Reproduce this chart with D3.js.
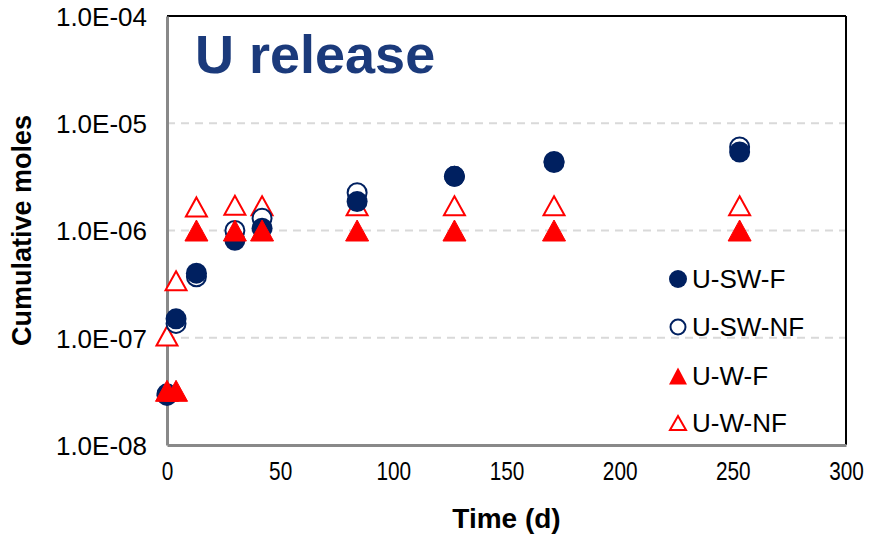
<!DOCTYPE html>
<html>
<head>
<meta charset="utf-8">
<script src="https://cdn.jsdelivr.net/npm/d3@7/dist/d3.min.js"></script>
<style>
  html, body { margin: 0; padding: 0; background: #fff; }
  svg { display: block; }
</style>
</head>
<body>
<svg id="chart" width="872" height="536"></svg>
<script>
// Sampling times (days)
const daysSW = [0, 4, 13, 30, 42, 84, 127, 171, 253];
const daysW  = [0, 4, 13, 30, 42, 84, 127, 171, 253];

// Cumulative U released (moles)
const uSWF  = [2.9e-8, 1.5e-7, 4.0e-7, 8.1e-7, 1.05e-6, 1.86e-6, 3.2e-6, 4.3e-6, 5.4e-6];
const uSWNF = [3.0e-8, 1.36e-7, 3.7e-7, 1.0e-6, 1.3e-6, 2.25e-6, 3.2e-6, 4.4e-6, 6.0e-6];
const uWF   = [3.2e-8, 3.2e-8, 1.0e-6, 1.0e-6, 1.0e-6, 1.0e-6, 1.0e-6, 1.0e-6, 1.0e-6];
const uWNF  = [1.04e-7, 3.4e-7, 1.66e-6, 1.72e-6, 1.7e-6, 1.7e-6, 1.7e-6, 1.7e-6, 1.7e-6];

const xTicks = [0, 50, 100, 150, 200, 250, 300];
const yTicks = [1e-8, 1e-7, 1e-6, 1e-5, 1e-4];
const yTickLabels = ["1.0E-08", "1.0E-07", "1.0E-06", "1.0E-05", "1.0E-04"];
const gridValues = [1e-7, 1e-6, 1e-5];

const seriesNames = ["U-SW-F", "U-SW-NF", "U-W-F", "U-W-NF"];

const NAVY = "#002060";
const RED = "#ff0000";
const FONT = "Liberation Sans, Arial, sans-serif";

const svg = d3.select("#chart");
const plot = { left: 167, right: 846, top: 16, bottom: 445 };

const x = d3.scaleLinear().domain([0, 300]).range([plot.left, plot.right]);
const y = d3.scaleLog().domain([1e-8, 1e-4]).range([plot.bottom, plot.top]);

// Dashed horizontal gridlines
svg.append("g").selectAll("line").data(gridValues).join("line")
  .attr("x1", plot.left).attr("x2", plot.right)
  .attr("y1", d => y(d)).attr("y2", d => y(d))
  .attr("stroke", "#d9d9d9").attr("stroke-width", 2)
  .attr("stroke-dasharray", "8,6");

// Plot frame: black top/right, grey axis lines left/bottom
svg.append("line").attr("x1", plot.left).attr("x2", plot.right)
  .attr("y1", plot.top).attr("y2", plot.top).attr("stroke", "#000").attr("stroke-width", 2);
svg.append("line").attr("x1", plot.right).attr("x2", plot.right)
  .attr("y1", plot.top).attr("y2", plot.bottom).attr("stroke", "#000").attr("stroke-width", 2);

// Y axis
const yAxis = d3.axisLeft(y).tickValues(yTicks)
  .tickFormat((d, i) => yTickLabels[i]).tickSize(0).tickPadding(20);
const gy = svg.append("g").attr("transform", `translate(${plot.left},0)`).call(yAxis);
gy.select(".domain").attr("stroke", "#898989").attr("stroke-width", 3);
gy.selectAll("text").attr("font-family", FONT)
  .attr("font-size", 26).attr("fill", "#000").attr("dy", "0.36em");

// X axis (condensed numerals)
const xAxis = d3.axisBottom(x).tickValues(xTicks).tickSize(0).tickPadding(17);
const gx = svg.append("g").attr("transform", `translate(0,${plot.bottom})`).call(xAxis);
gx.select(".domain").attr("stroke", "#898989").attr("stroke-width", 3);
gx.selectAll("text").attr("font-family", FONT)
  .attr("font-size", 26).attr("fill", "#000")
  .attr("transform", "scale(0.8,1)");

// Axis titles
svg.append("text").attr("x", (plot.left + plot.right) / 2).attr("y", 528)
  .attr("text-anchor", "middle")
  .attr("font-family", FONT)
  .attr("font-weight", "bold").attr("font-size", 28).text("Time (d)");
svg.append("text").attr("transform", `translate(31,${(plot.top + plot.bottom) / 2}) rotate(-90)`)
  .attr("text-anchor", "middle")
  .attr("font-family", FONT)
  .attr("font-weight", "bold").attr("font-size", 27).text("Cumulative moles");

// Chart title
svg.append("text").attr("x", 195).attr("y", 73)
  .attr("font-family", FONT)
  .attr("font-weight", "bold").attr("font-size", 54).attr("fill", "#1b3a7b")
  .text("U release");

// Marker helpers
function triPath(cx, cy, w, h) {
  return `M${cx},${cy - h / 2}L${cx + w / 2},${cy + h / 2}L${cx - w / 2},${cy + h / 2}Z`;
}

const g = svg.append("g");

// U-W-NF open triangles
g.append("g").selectAll("path").data(daysW.map((d, i) => [d, uWNF[i]])).join("path")
  .attr("d", d => triPath(x(d[0]), y(d[1]), 21, 19))
  .attr("fill", "#fff").attr("stroke", RED).attr("stroke-width", 2);

// U-SW-NF open circles
g.append("g").selectAll("circle").data(daysSW.map((d, i) => [d, uSWNF[i]])).join("circle")
  .attr("cx", d => x(d[0])).attr("cy", d => y(d[1])).attr("r", 9.5)
  .attr("fill", "#fff").attr("stroke", NAVY).attr("stroke-width", 2);

// U-SW-F filled circles
g.append("g").selectAll("circle").data(daysSW.map((d, i) => [d, uSWF[i]])).join("circle")
  .attr("cx", d => x(d[0])).attr("cy", d => y(d[1])).attr("r", 10.5)
  .attr("fill", NAVY);

// U-W-F filled triangles
g.append("g").selectAll("path").data(daysW.map((d, i) => [d, uWF[i]])).join("path")
  .attr("d", d => triPath(x(d[0]), y(d[1]), 23, 21))
  .attr("fill", RED).attr("stroke", RED).attr("stroke-width", 1);

// Legend
const legendRows = [279, 327, 376, 423];
const leg = svg.append("g");
seriesNames.forEach((name, i) => {
  const cy = legendRows[i];
  const mx = 678;
  if (i === 0) leg.append("circle").attr("cx", mx).attr("cy", cy).attr("r", 9).attr("fill", NAVY);
  if (i === 1) leg.append("circle").attr("cx", mx).attr("cy", cy).attr("r", 7.5).attr("fill", "#fff")
    .attr("stroke", NAVY).attr("stroke-width", 2);
  if (i === 2) leg.append("path").attr("d", triPath(mx, cy, 18, 17)).attr("fill", RED);
  if (i === 3) leg.append("path").attr("d", triPath(mx, cy, 16, 14)).attr("fill", "#fff")
    .attr("stroke", RED).attr("stroke-width", 2);
  leg.append("text").attr("x", 692).attr("y", cy + 9)
    .attr("font-family", FONT)
    .attr("font-size", 26).attr("fill", "#000").text(name);
});
</script>
</body>
</html>
